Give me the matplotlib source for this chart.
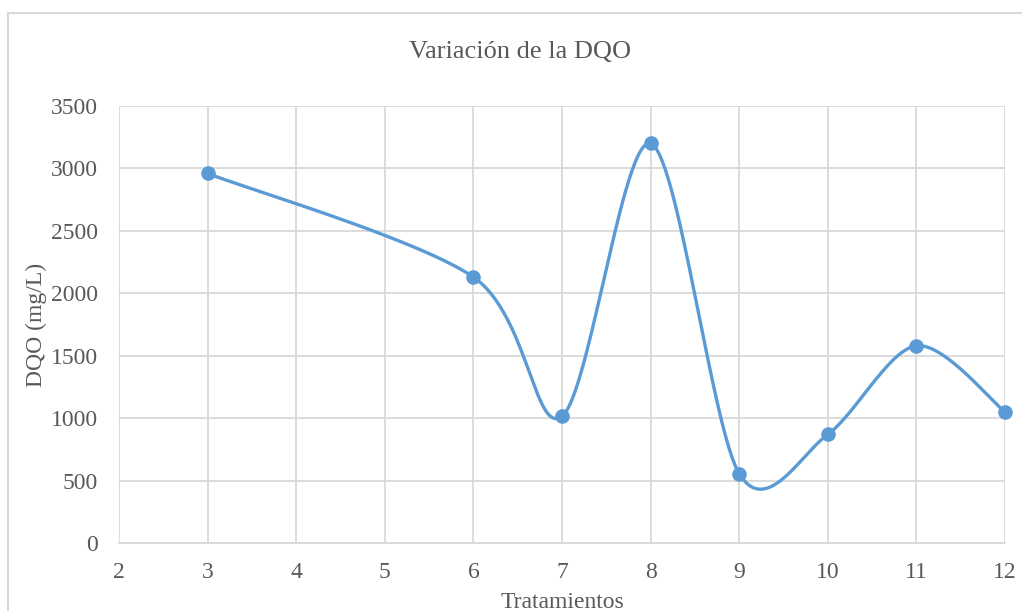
import matplotlib.pyplot as plt
import matplotlib.patches as patches
import numpy as np

tratamientos = [3, 6, 7, 8, 9, 10, 11, 12]
dqo = [2960, 2130, 1015, 3200, 555, 870, 1580, 1050]
xticks = [2, 3, 4, 5, 6, 7, 8, 9, 10, 11, 12]
yticks = [0, 500, 1000, 1500, 2000, 2500, 3000, 3500]

blue = "#5B9BD5"
grey_text = "#595959"
grid_col = "#D9D9D9"


def smooth_curve(x, y, n=60):
    # Catmull-Rom style bezier, like the "smoothed line" option in spreadsheets
    p = np.column_stack([x, y]).astype(float)
    out = []
    for i in range(len(p) - 1):
        p0 = p[i - 1] if i > 0 else p[i]
        p1 = p[i]
        p2 = p[i + 1]
        p3 = p[i + 2] if i + 2 < len(p) else p[i + 1]
        c1 = p1 + (p2 - p0) / 6.5
        c2 = p2 - (p3 - p1) / 6.5
        t = np.linspace(0, 1, n)[:, None]
        seg = ((1 - t) ** 3) * p1 + 3 * ((1 - t) ** 2) * t * c1 \
            + 3 * (1 - t) * t ** 2 * c2 + t ** 3 * p2
        out.append(seg)
    out = np.vstack(out)
    return out[:, 0], out[:, 1]


plt.rcParams["font.family"] = ["Liberation Serif", "DejaVu Serif"]

fig = plt.figure(figsize=(10.22, 6.11), dpi=100)
ax = fig.add_axes([0.1164, 0.1113, 0.867, 0.7152])

# chart border
fig.patches.append(patches.Rectangle((8 / 1022, -0.1), 1.2, 1 - 13 / 611 + 0.1,
                                     transform=fig.transFigure, fill=False,
                                     edgecolor=grid_col, linewidth=1.5))

sx, sy = smooth_curve(tratamientos, dqo)
ax.plot(sx, sy, color=blue, linewidth=2.4, zorder=3, clip_on=False)
ax.plot(tratamientos, dqo, "o", color=blue, markersize=9.5, zorder=4, clip_on=False)

ax.set_xlim(2, 12)
ax.set_ylim(0, 3500)
ax.set_xticks(xticks)
ax.set_yticks(yticks)
ax.grid(True, color=grid_col, linewidth=1.3)
ax.set_axisbelow(True)
for s in ax.spines.values():
    s.set_visible(False)
ax.spines["bottom"].set_visible(True)
ax.spines["bottom"].set_color(grid_col)
ax.spines["bottom"].set_linewidth(1.3)
ax.tick_params(axis="x", length=0, labelsize=17, labelcolor=grey_text, pad=14)
ax.tick_params(axis="y", length=0, labelsize=17, labelcolor=grey_text, pad=15)

fig.text(520 / 1022, 1 - 52 / 611, "Variación de la DQO", fontsize=19,
         color=grey_text, ha="center", va="center")
ax.set_ylabel("DQO (mg/L)", fontsize=17, color=grey_text, labelpad=3)
ax.set_xlabel("Tratamientos", fontsize=17, color=grey_text, labelpad=6)

plt.savefig("out.png", dpi=100)
